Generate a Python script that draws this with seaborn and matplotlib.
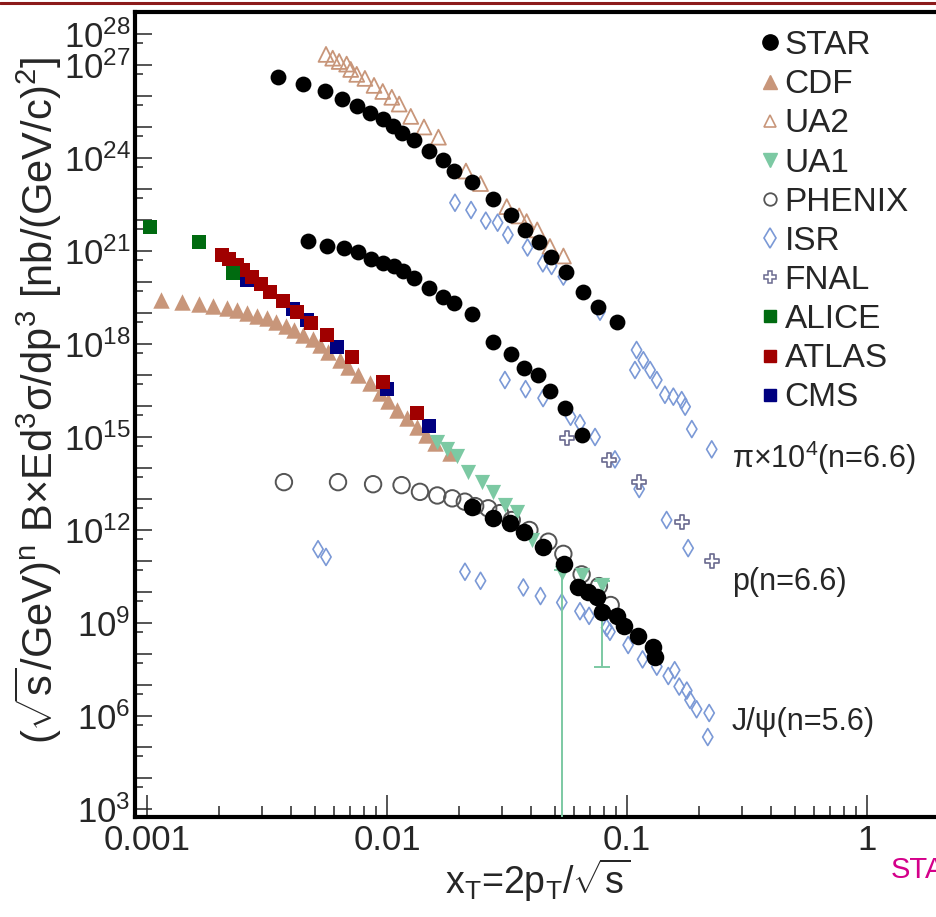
import matplotlib
matplotlib.use("Agg")
import matplotlib.pyplot as plt
from matplotlib.lines import Line2D
from matplotlib.ticker import FixedLocator, NullFormatter
import seaborn as sns
import numpy as np

sns.set_style("ticks")
plt.rcParams['font.family'] = ['Liberation Sans', 'DejaVu Sans']
plt.rcParams['mathtext.fontset'] = 'custom'
plt.rcParams['mathtext.rm'] = 'Liberation Sans'
plt.rcParams['mathtext.it'] = 'Liberation Sans'
plt.rcParams['mathtext.default'] = 'regular'

# ---- data ----
star_pi_x = [0.00351, 0.00448, 0.00552, 0.00647, 0.00748, 0.00849, 0.0096, 0.01057, 0.0115, 0.01296, 0.0150, 0.01706,
             0.0190, 0.02254, 0.02773, 0.03289, 0.03758, 0.04316, 0.04808, 0.05572, 0.06531, 0.07551, 0.09057]
star_pi_y = [4.0e26, 2.4e26, 1.4e26, 7.8e25, 4.8e25, 2.9e25, 1.8e25, 1.07e25, 6.6e24, 3.8e24, 1.7e24, 8.7e23,
             3.8e23, 1.66e23, 4.7e22, 1.45e22, 4.8e21, 2.0e21, 6.3e20, 2.1e20, 4.9e19, 1.6e19, 5.2e18]

star_p_x = [0.00468, 0.00564, 0.00662, 0.00759, 0.00855, 0.0096, 0.01069, 0.01161, 0.0130, 0.0150, 0.01706, 0.0190,
            0.02254, 0.02773, 0.03275, 0.0374, 0.04266, 0.0479, 0.05534, 0.06472]
star_p_y = [2.1e21, 1.5e21, 1.23e21, 9.5e20, 5.4e20, 4.0e20, 3.3e20, 2.3e20, 1.3e20, 6.3e19, 3.2e19, 2.1e19,
            9.3e18, 1.2e18, 4.7e17, 1.7e17, 1.0e17, 3.0e16, 8.9e15, 1.15e15]

star_jpsi_x = [0.02254, 0.02754, 0.03255, 0.03733, 0.04477, 0.05464, 0.06266, 0.06855, 0.07482, 0.07852, 0.09057,
               0.0975, 0.1110, 0.1289, 0.1309]
star_jpsi_y = [5.4e12, 2.5e12, 1.66e12, 8.9e11, 2.9e11, 7.8e10, 1.5e10, 1.0e10, 7.1e9, 2.2e9, 1.7e9,
               8.1e8, 3.9e8, 1.7e8, 8.1e7]

cdf_x = [0.00114, 0.0014, 0.00164, 0.00189, 0.00216, 0.00238, 0.00262, 0.00288, 0.00316, 0.00345, 0.00379, 0.0041,
         0.00448, 0.0049, 0.00526, 0.00569, 0.00637, 0.0069, 0.00759, 0.00849, 0.00935, 0.0101, 0.01096, 0.0121,
         0.0133, 0.0146, 0.0158, 0.0183]
cdf_y = [2.6e19, 2.3e19, 2.0e19, 1.7e19, 1.4e19, 1.25e19, 1.0e19, 8.0e18, 6.7e18, 5.2e18, 3.8e18, 2.8e18,
         1.95e18, 1.4e18, 9.3e17, 5.6e17, 3.0e17, 1.86e17, 1.0e17, 5.6e16, 2.6e16, 1.4e16, 7.4e15, 4.0e15,
         2.1e15, 1.15e15, 6.3e14, 3.0e14]

ua2_x = [0.00557, 0.00594, 0.00632, 0.00679, 0.00706, 0.00748, 0.00809, 0.00883, 0.0096, 0.01047, 0.01124, 0.01256,
         0.01426, 0.01638, 0.02133, 0.02453, 0.03155, 0.03554, 0.03817, 0.04225, 0.04775, 0.05434]
ua2_y = [2.2e27, 1.66e27, 1.3e27, 1.07e27, 7.2e26, 5.0e26, 3.7e26, 2.2e26, 1.4e26, 9.1e25, 5.5e25, 2.2e25,
         1.0e25, 4.7e24, 3.8e23, 1.5e23, 2.7e22, 1.35e22, 8.9e21, 4.8e21, 1.4e21, 6.9e20]

ua1_x = [0.0161, 0.01778, 0.0195, 0.0218, 0.0248, 0.0277, 0.0310, 0.0347, 0.0401, 0.0535, 0.0647, 0.0785]
ua1_y = [7.1e14, 4.1e14, 2.4e14, 7.6e13, 3.6e13, 1.7e13, 6.4e12, 3.9e12, 4.8e11, 4.0e10, 3.5e10, 1.7e10]
ua1_err_x = [0.0535, 0.0785]
ua1_err_y = [4.0e10, 1.7e10]
ua1_err_lo = [1.0e1, 3.8e7]
ua1_err_hi = [5.0e10, 2.2e10]

phenix_x = [0.00372, 0.00625, 0.00875, 0.0115, 0.01372, 0.0162, 0.0187, 0.0211, 0.0233, 0.0264, 0.0296, 0.0331,
            0.0392, 0.0470, 0.0543, 0.0647, 0.0764, 0.0855]
phenix_y = [3.5e13, 3.5e13, 3.0e13, 2.8e13, 1.7e13, 1.3e13, 1.05e13, 8.2e12, 5.9e12, 5.0e12, 3.5e12, 2.1e12,
            1.0e12, 4.2e11, 1.7e11, 3.7e10, 1.55e10, 3.8e9]

isr_pi_x = [0.0192, 0.0224, 0.0258, 0.0289, 0.0319, 0.0385, 0.0446, 0.0485, 0.0543, 0.0772, 0.1079, 0.1096,
            0.1170, 0.1248, 0.1331, 0.1439, 0.156, 0.169, 0.1747, 0.1862, 0.2254]
isr_pi_y = [3.6e22, 2.1e22, 9.5e21, 8.2e21, 3.3e21, 1.3e21, 4.0e20, 3.3e20, 1.5e20, 1.1e19, 1.45e17, 6.4e17,
            3.0e17, 1.45e17, 6.9e16, 2.3e16, 2.0e16, 1.55e16, 9.5e15, 1.8e15, 4.0e14]

isr_p_x = [0.0310, 0.0378, 0.0447, 0.0582, 0.0637, 0.0736, 0.0891, 0.1124, 0.1462, 0.1798]
isr_p_y = [6.9e16, 3.5e16, 1.8e16, 4.5e15, 2.8e15, 1.0e15, 1.9e14, 2.1e13, 2.1e12, 2.6e11]

isr_jpsi_x = [0.00516, 0.00557, 0.02113, 0.02453, 0.0370, 0.0436, 0.0535, 0.0637, 0.0695, 0.0822, 0.0849, 0.1011,
              0.1161, 0.1331, 0.1486, 0.158, 0.165, 0.1775, 0.183, 0.195, 0.22, 0.217]
isr_jpsi_y = [2.4e11, 1.35e11, 4.5e10, 2.3e10, 1.4e10, 7.4e9, 4.6e9, 2.4e9, 1.7e9, 7.1e8, 5.2e8, 1.95e8,
              6.7e7, 3.9e7, 1.95e7, 3.0e7, 8.9e6, 6.6e6, 3.3e6, 1.65e6, 1.25e6, 2.1e5]

fnal_x = [0.0561, 0.0843, 0.1124, 0.169, 0.2265]
fnal_y = [9.1e14, 1.8e14, 3.6e13, 1.85e12, 1.0e11]

alice_x = [0.00103, 0.00164, 0.00228]
alice_y = [6.0e21, 2.0e21, 1.95e20]

atlas_x = [0.00205, 0.0022, 0.00237, 0.00252, 0.00275, 0.00298, 0.00327, 0.00367, 0.00423, 0.00481, 0.00564,
           0.00713, 0.00966, 0.0133]
atlas_y = [7.4e20, 5.4e20, 3.5e20, 2.4e20, 1.4e20, 8.6e19, 4.9e19, 2.5e19, 1.1e19, 4.7e18, 1.95e18,
           3.9e17, 6.0e16, 5.8e15]

cms_x = [0.0026, 0.00405, 0.00462, 0.00621, 0.00998, 0.0150]
cms_y = [1.15e20, 1.3e19, 5.9e18, 7.8e17, 3.5e16, 2.2e15]

legend_labels = ['STAR', 'CDF', 'UA2', 'UA1', 'PHENIX', 'ISR', 'FNAL', 'ALICE', 'ATLAS', 'CMS']
ylabels_shown = [3, 6, 9, 12, 15, 18, 21, 24, 27, 28]

# colours
c_star = 'black'
c_cdf = '#c8967a'
c_ua1 = '#7cc9a3'
c_phenix = '#555555'
c_isr = '#7b99d6'
c_fnal = '#6a6a8f'
c_alice = '#006b10'
c_atlas = '#a00000'
c_cms = '#000080'

W, H = 936, 917
fig = plt.figure(figsize=(W / 100, H / 100), dpi=100)
ax = fig.add_axes([135 / W, 1 - 817 / H, 1 - 135 / W, (817 - 12) / H])


def filled(x, y, marker, s, color, z, ec=None, lw=0):
    sns.scatterplot(x=x, y=y, marker=marker, s=s, color=color, edgecolor=ec or color,
                    linewidth=lw, ax=ax, legend=False, zorder=z)


def hollow(x, y, marker, s, color, z, lw=1.3):
    sns.scatterplot(x=x, y=y, marker=marker, s=s, facecolor='none', edgecolor=color,
                    linewidth=lw, ax=ax, legend=False, zorder=z)


filled(cdf_x, cdf_y, '^', 140, c_cdf, 2)
hollow(ua2_x, ua2_y, '^', 115, c_cdf, 2)
hollow(isr_pi_x, isr_pi_y, 'd', 75, c_isr, 2, lw=1.2)
hollow(isr_p_x, isr_p_y, 'd', 75, c_isr, 2, lw=1.2)
hollow(isr_jpsi_x, isr_jpsi_y, 'd', 75, c_isr, 2, lw=1.2)
sns.scatterplot(x=fnal_x, y=fnal_y, marker='P', s=110, color='white', edgecolor=c_fnal,
                linewidth=1.2, ax=ax, legend=False, zorder=3)
hollow(phenix_x, phenix_y, 'o', 140, c_phenix, 3, lw=1.4)
ax.errorbar(ua1_err_x, ua1_err_y,
            yerr=[np.array(ua1_err_y) - np.array(ua1_err_lo), np.array(ua1_err_hi) - np.array(ua1_err_y)],
            fmt='none', ecolor=c_ua1, elinewidth=1.4, capsize=6, capthick=1.4, zorder=3)
filled(ua1_x, ua1_y, 'v', 120, c_ua1, 4)
filled(cms_x, cms_y, 's', 105, c_cms, 4)
filled(atlas_x, atlas_y, 's', 110, c_atlas, 5)
filled(alice_x, alice_y, 's', 90, c_alice, 5)
filled(star_pi_x, star_pi_y, 'o', 130, c_star, 6)
filled(star_p_x, star_p_y, 'o', 130, c_star, 6)
filled(star_jpsi_x, star_jpsi_y, 'o', 160, c_star, 6)

ax.set_xscale('log')
ax.set_yscale('log')
ax.set_xlim(10 ** (-3.05), 10 ** ((W - 147) / 240 - 3))
ax.set_ylim(10 ** 2.742, 10 ** 28.71)

# ticks
ax.xaxis.set_major_locator(FixedLocator([0.001, 0.01, 0.1, 1]))
ax.set_xticklabels(['0.001', '0.01', '0.1', '1'])
ax.xaxis.set_minor_locator(FixedLocator([m * 10.0 ** e for e in range(-3, 1) for m in range(2, 10)]))
ax.xaxis.set_minor_formatter(NullFormatter())
ax.yaxis.set_major_locator(FixedLocator([10.0 ** e for e in range(3, 29)]))
ax.set_yticklabels([f'$10^{{{e}}}$' if e in ylabels_shown else '' for e in range(3, 29)])
ax.yaxis.set_minor_locator(FixedLocator([5 * 10.0 ** e for e in range(2, 29)]))
ax.yaxis.set_minor_formatter(NullFormatter())
ax.tick_params(axis='x', which='major', direction='in', length=16, width=1.1, labelsize=25, pad=5)
ax.tick_params(axis='x', which='minor', direction='in', length=8, width=1.1)
ax.tick_params(axis='y', which='major', direction='in', length=12, width=1.1, labelsize=25, pad=3)
ax.tick_params(axis='y', which='minor', direction='in', length=6, width=1.1)
ax.tick_params(top=False, right=False, which='both')

for side in ['left', 'bottom', 'top']:
    ax.spines[side].set_linewidth(3)
    ax.spines[side].set_color('black')
ax.spines['right'].set_visible(False)
ax.grid(False)

ax.set_ylabel(r'($\sqrt{s}$/GeV)$^{n}$ B×Ed$^{3}$σ/dp$^{3}$ [nb/(GeV/c)$^{2}$]', fontsize=30)
ax.yaxis.set_label_coords((38 - 135) / (W - 135), (817 - 400) / 805)
ax.yaxis.label.set_va('center')
ax.set_xlabel(r'x$_{T}$=2p$_{T}$/$\sqrt{s}$', fontsize=27)
ax.xaxis.set_label_coords((538 - 135) / (W - 135), -63 / 805)
ax.xaxis.label.set_va('center')

# curve labels
ax.text(732 / W, 1 - 458 / H, 'π×10$^{4}$(n=6.6)', transform=fig.transFigure, fontsize=22, va='center')
ax.text(732 / W, 1 - 582 / H, 'p(n=6.6)', transform=fig.transFigure, fontsize=22, va='center')
ax.text(732 / W, 1 - 722 / H, 'J/ψ(n=5.6)', transform=fig.transFigure, fontsize=22, va='center')

# legend
handles = [
    Line2D([], [], ls='none', marker='o', ms=11, mfc=c_star, mec=c_star),
    Line2D([], [], ls='none', marker='^', ms=10, mfc=c_cdf, mec=c_cdf),
    Line2D([], [], ls='none', marker='^', ms=9, mfc='none', mec=c_cdf, mew=1.2),
    Line2D([], [], ls='none', marker='v', ms=10, mfc=c_ua1, mec=c_ua1),
    Line2D([], [], ls='none', marker='o', ms=9, mfc='none', mec=c_phenix, mew=1.3),
    Line2D([], [], ls='none', marker='d', ms=10, mfc='none', mec=c_isr, mew=1.2),
    Line2D([], [], ls='none', marker='P', ms=9, mfc='white', mec=c_fnal, mew=1.1),
    Line2D([], [], ls='none', marker='s', ms=8, mfc=c_alice, mec=c_alice),
    Line2D([], [], ls='none', marker='s', ms=8, mfc=c_atlas, mec=c_atlas),
    Line2D([], [], ls='none', marker='s', ms=8, mfc=c_cms, mec=c_cms),
]
ax.legend(handles, legend_labels, loc='upper left', bbox_to_anchor=(758 / W, 1 - 30 / H),
          bbox_transform=fig.transFigure, frameon=False, fontsize=24, handlelength=0.7,
          handletextpad=0.1, labelspacing=0.245, borderpad=0, borderaxespad=0)

# slide decorations
fig.add_artist(Line2D([0, 1], [1 - 3 / H, 1 - 3 / H], transform=fig.transFigure, color='#8b1a1a', lw=2.2))
fig.text(891 / W, 1 - 870 / H, 'STAR', color='#d4008a', fontsize=21, va='center')

fig.savefig('out.png', dpi=100)
